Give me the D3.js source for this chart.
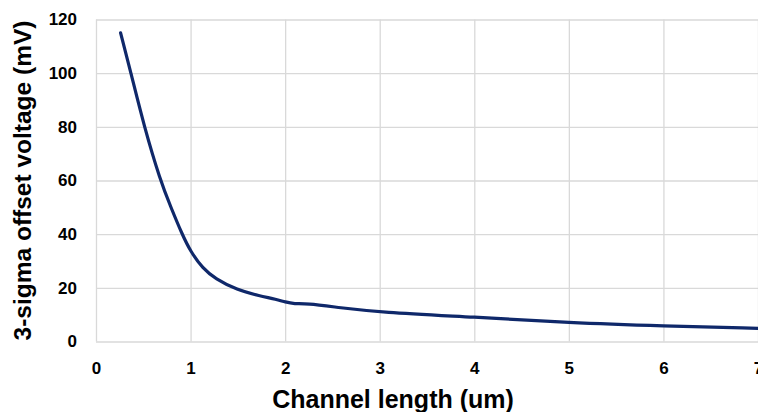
<!DOCTYPE html>
<html>
<head>
<meta charset="utf-8">
<script src="https://cdn.jsdelivr.net/npm/d3@7"></script>
<style>
  body { margin: 0; background: #fff; }
  svg { display: block; }
</style>
</head>
<body>
<svg id="chart" width="758" height="412"></svg>
<script>
// channel length (um) vs 3-sigma offset (mV)
let channelLength = [0.26, 0.37, 0.51, 0.68, 0.79, 0.91, 1.0, 1.13, 1.26, 1.49, 1.73, 1.91, 2.0, 2.1, 2.22, 2.58, 3.0, 4.0, 5.0, 6.0, 7.0];
let offsetVoltage = [115, 100, 80, 60, 50.2, 40, 33.5, 27.2, 23.4, 19.2, 17.0, 15.7, 14.7, 14.0, 14.2, 12.6, 10.9, 9.1, 7.0, 5.8, 4.9];
let xTicks = [0, 1, 2, 3, 4, 5, 6, 7];
let yTicks = [0, 20, 40, 60, 80, 100, 120];

let gridColor = "#d9d9d9";
let lineColor = "#0f286a";
let font = "'Liberation Sans', Arial, sans-serif";

function drawChart(svgId) {
    let svg = d3.select(svgId);
    let left = 96, right = 758, top = 19.5, bottom = 341.5;

    let x = d3.scaleLinear().domain([0, 7]).range([left, right]);
    let y = d3.scaleLinear().domain([0, 120]).range([bottom, top]);

    // y grid + labels
    let yAxis = svg.append("g")
        .attr("transform", "translate(" + left + ",0)")
        .call(d3.axisLeft(y).tickValues(yTicks).tickFormat(d3.format("d"))
            .tickSize(-(right - left)).tickPadding(19));
    yAxis.select(".domain").remove();
    yAxis.selectAll("line").style("stroke", gridColor).style("stroke-width", 1.3);
    yAxis.selectAll("text")
        .style("font-family", font)
        .style("font-size", "17px")
        .style("font-weight", "bold")
        .style("fill", "#000");

    // x grid + labels
    let xAxis = svg.append("g")
        .attr("transform", "translate(0," + bottom + ")")
        .call(d3.axisBottom(x).tickValues(xTicks).tickFormat(d3.format("d"))
            .tickSize(-(bottom - top)).tickPadding(20.5));
    xAxis.select(".domain").remove();
    xAxis.selectAll("line").style("stroke", gridColor).style("stroke-width", 1.3);
    xAxis.selectAll("text")
        .style("font-family", font)
        .style("font-size", "17px")
        .style("font-weight", "bold")
        .style("fill", "#000");

    // the curve (basis spline to smooth out reading noise)
    let pts = channelLength.map((d, i) => [d, offsetVoltage[i]]);
    svg.append("path")
        .datum(pts)
        .attr("d", d3.line().x(d => x(d[0])).y(d => y(d[1])).curve(d3.curveBasis))
        .style("fill", "none")
        .style("stroke", lineColor)
        .style("stroke-width", 3.2)
        .style("stroke-linecap", "round");

    // axis titles
    svg.append("text")
        .attr("x", 393)
        .attr("y", 408)
        .attr("text-anchor", "middle")
        .text("Channel length (um)")
        .style("font-family", font)
        .style("font-size", "25px")
        .style("font-weight", "bold")
        .style("fill", "#000");

    svg.append("text")
        .attr("transform", "translate(31," + ((top + bottom) / 2) + ") rotate(-90)")
        .attr("text-anchor", "middle")
        .text("3-sigma offset voltage (mV)")
        .style("font-family", font)
        .style("font-size", "24.5px")
        .style("font-weight", "bold")
        .style("fill", "#000");
}

drawChart("#chart");
</script>
</body>
</html>
